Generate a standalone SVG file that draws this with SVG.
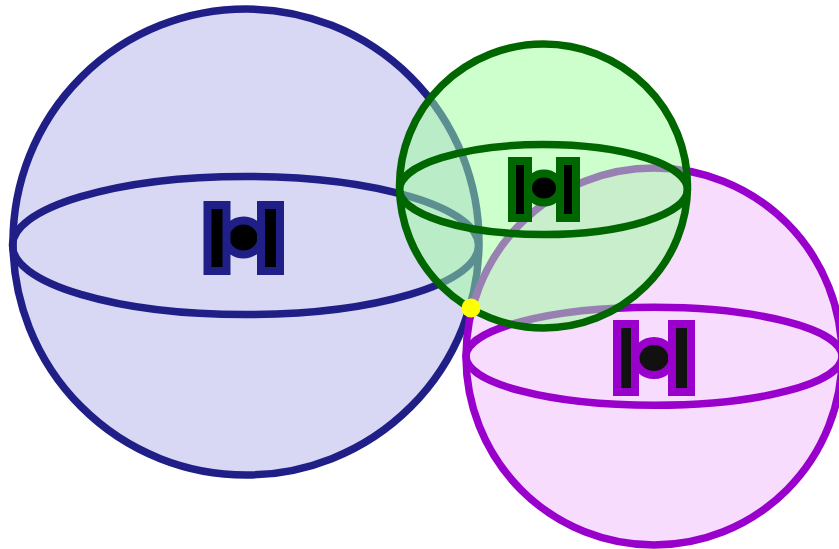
<svg xmlns="http://www.w3.org/2000/svg" width="839" height="549" viewBox="0 0 839 549">
<style>
.c{stroke-width:7.500}
.n{fill:none;stroke-width:7.500}
.i{stroke-width:8}
.blue{stroke:#1f1f87}
.pur{stroke:#9900cc}
.grn{stroke:#006600}
</style>
<rect width="839" height="549" fill="#fff"/>
<g id="node-blue">
<ellipse class="c blue" cx="246" cy="242" rx="233" ry="233" fill="#d8d8f4"/>
<ellipse class="n blue" cx="245.500" cy="245.500" rx="233" ry="69"/>
<g class="i blue" fill="#000">
<ellipse cx="243.500" cy="237.500" rx="18" ry="17"/>
<rect x="207.500" y="205" width="19" height="66"/>
<rect x="261" y="205" width="19" height="66"/>
</g>
</g>
<g id="node-purple">
<ellipse class="c pur" cx="654" cy="356.500" rx="188" ry="188.500" fill="#f7dcfd"/>
<ellipse class="n pur" cx="654" cy="356.300" rx="188" ry="49"/>
<g class="i pur" fill="#111">
<ellipse cx="654" cy="358" rx="18.500" ry="17"/>
<rect x="617" y="324" width="18" height="68"/>
<rect x="672" y="324" width="19" height="68"/>
</g>
</g>
<g id="node-green">
<ellipse class="c grn" cx="543.500" cy="186" rx="144" ry="142" fill="#99ff99" fill-opacity="0.5"/>
<ellipse class="n grn" cx="543.500" cy="189.500" rx="144" ry="45"/>
<g class="i grn" fill="#000">
<ellipse cx="544" cy="188" rx="16" ry="14.500"/>
<rect x="512" y="161" width="16" height="57"/>
<rect x="560" y="161" width="16" height="57"/>
</g>
</g>
<g id="connectors">
<circle id="junction" cx="471" cy="308" r="9.500" fill="#ffff00"/>
</g>
</svg>
